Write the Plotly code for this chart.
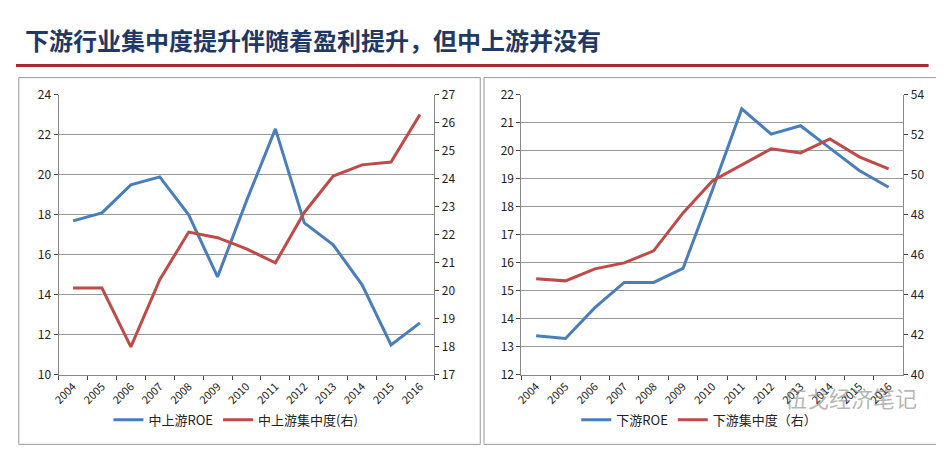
import plotly.graph_objects as go

years = [str(y) for y in range(2004, 2017)]
up_roe = [17.7, 18.1, 19.5, 19.9, 18.0, 14.9, 18.7, 22.3, 17.6, 16.5, 14.5, 11.5, 12.6]
up_conc = [20.1, 20.1, 18.0, 20.4, 22.1, 21.9, 21.5, 21.0, 22.8, 24.1, 24.5, 24.6, 26.3]
down_roe = [13.4, 13.3, 14.4, 15.3, 15.3, 15.8, 18.6, 21.5, 20.6, 20.9, 20.1, 19.3, 18.7]
down_conc = [44.8, 44.7, 45.3, 45.6, 46.2, 48.1, 49.7, 50.5, 51.3, 51.1, 51.8, 50.9, 50.3]

blue = "#4a7ebb"
red = "#be4b48"
font = "Noto Sans CJK SC"

fig = go.Figure()
fig.add_trace(go.Scatter(x=years, y=up_roe, name="中上游ROE", mode="lines",
                         line=dict(color=blue, width=3), xaxis="x", yaxis="y", legend="legend"))
fig.add_trace(go.Scatter(x=years, y=up_conc, name="中上游集中度(右)", mode="lines",
                         line=dict(color=red, width=3), xaxis="x", yaxis="y2", legend="legend"))
fig.add_trace(go.Scatter(x=years, y=down_roe, name="下游ROE", mode="lines",
                         line=dict(color=blue, width=3), xaxis="x2", yaxis="y3", legend="legend2"))
fig.add_trace(go.Scatter(x=years, y=down_conc, name="下游集中度（右）", mode="lines",
                         line=dict(color=red, width=3), xaxis="x2", yaxis="y4", legend="legend2"))

xcommon = dict(type="category", tickson="boundaries", ticks="outside", ticklen=4,
               range=[-0.5, len(years) - 0.5],
               tickangle=-45, showgrid=False, showline=True, linecolor="#888",
               tickfont=dict(size=11, color="#222"), mirror=False)
ycommon = dict(showline=True, linecolor="#888", ticks="outside", ticklen=4,
               tickfont=dict(size=12, color="#222"), zeroline=False)

fig.update_layout(
    width=944, height=449, margin=dict(l=0, r=0, t=0, b=0),
    paper_bgcolor="white", plot_bgcolor="white", font=dict(family=font),
    xaxis=dict(domain=[0.0455, 0.447], anchor="y", **xcommon),
    yaxis=dict(domain=[0.174, 0.822], range=[10, 24], dtick=2, showgrid=True,
               gridcolor="#999", anchor="x", **ycommon),
    yaxis2=dict(range=[17, 27], dtick=1, overlaying="y", side="right", anchor="x",
                showgrid=False, **ycommon),
    xaxis2=dict(domain=[0.540, 0.948], anchor="y3", **xcommon),
    yaxis3=dict(domain=[0.174, 0.822], range=[12, 22], dtick=1, showgrid=True,
                gridcolor="#999", anchor="x2", **ycommon),
    yaxis4=dict(range=[40, 54], dtick=2, overlaying="y3", side="right", anchor="x2",
                showgrid=False, **ycommon),
    legend=dict(orientation="h", x=0.235, y=0.035, xanchor="center", yanchor="bottom",
                font=dict(size=13, color="#222")),
    legend2=dict(orientation="h", x=0.73, y=0.035, xanchor="center", yanchor="bottom",
                 font=dict(size=13, color="#222")),
    showlegend=True,
)

fig.add_shape(type="rect", xref="paper", yref="paper", x0=0.003, x1=0.496, y0=0.013, y1=0.862,
              line=dict(color="#999", width=1))
fig.add_shape(type="rect", xref="paper", yref="paper", x0=0.5, x1=0.99, y0=0.013, y1=0.862,
              line=dict(color="#999", width=1))
fig.add_shape(type="line", xref="paper", yref="paper", x0=0.0, x1=0.975, y0=0.89, y1=0.89,
              line=dict(color="#a8282b", width=3))
fig.add_annotation(text="<b>下游行业集中度提升伴随着盈利提升，但中上游并没有</b>",
                   xref="paper", yref="paper", x=0.008, y=0.995, xanchor="left", yanchor="top",
                   showarrow=False, font=dict(size=24, color="#1f3864", family=font))
fig.add_annotation(text="伍戈经济笔记", xref="paper", yref="paper", x=0.965, y=0.08,
                   xanchor="right", showarrow=False,
                   font=dict(size=22, color="rgba(120,120,120,0.55)", family=font))

fig.write_html("out.html")
